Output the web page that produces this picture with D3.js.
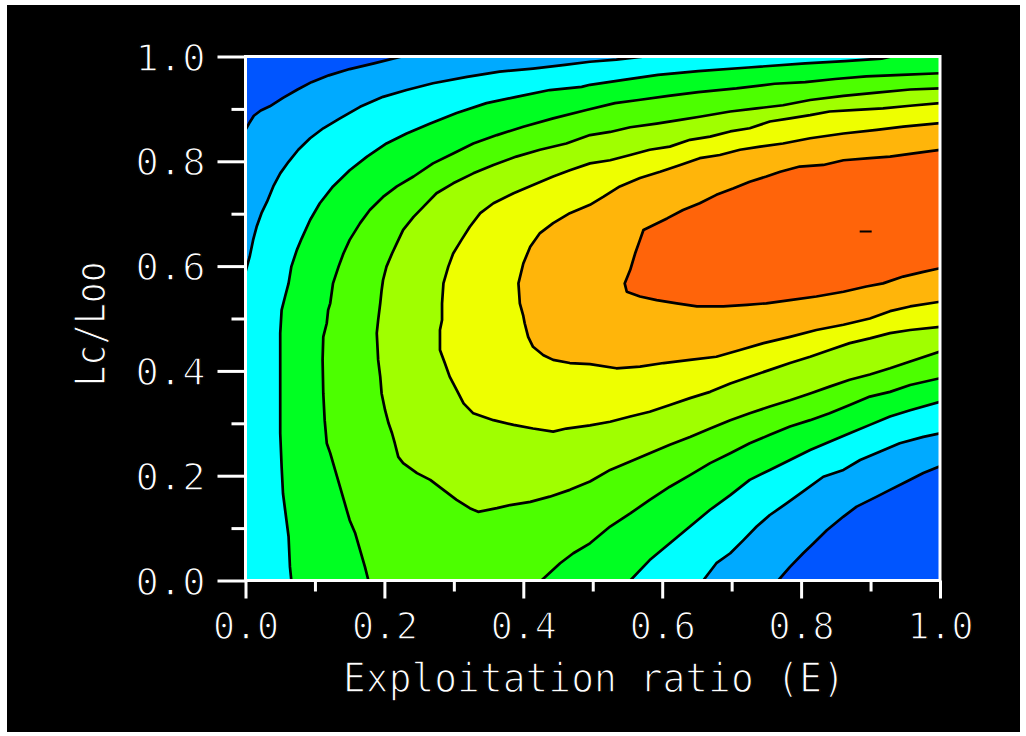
<!DOCTYPE html>
<html><head><meta charset="utf-8">
<script src="https://cdn.jsdelivr.net/npm/d3@7"></script>
<style>
html,body{margin:0;padding:0;background:#fff;}
svg{display:block;}
</style></head>
<body>
<svg id="chart" width="1026" height="736"></svg>
<script>
// ---- data: isopleth lines, points are [E, Lc/Loo] ----
const xTickValues = [0, 0.2, 0.4, 0.6, 0.8, 1.0];
const xMinorTicks = [0.1, 0.3, 0.5, 0.7, 0.9];
const yTickValues = [0, 0.2, 0.4, 0.6, 0.8, 1.0];
const yMinorTicks = [0.1, 0.3, 0.5, 0.7, 0.9];
const xTitle = "Exploitation ratio (E)";
const yTitle = "Lc/Loo";

const level1Upper = [[0,.860],[.005,.872],[.012,.887],[.022,.897],[.035,.905],[.054,.921],[.075,.937],[.095,.951],[.12,.964],[.15,.976],[.185,.987],[.225,1]];
const level1Lower = [[.767,0],[.784,.026],[.803,.052],[.818,.071],[.837,.096],[.861,.122],[.880,.141],[.909,.160],[.928,.173],[.952,.189],[.976,.205],[1,.218]];
const level2Upper = [[0,.589],[.006,.618],[.011,.650],[.016,.675],[.023,.701],[.031,.723],[.040,.752],[.050,.777],[.062,.799],[.076,.822],[.093,.844],[.112,.863],[.136,.882],[.165,.904],[.198,.923],[.232,.936],[.270,.949],[.319,.961],[.366,.971],[.414,.977],[.460,.984],[.496,.990],[.534,.994],[.575,1]];
const level2Lower = [[.659,0],[.678,.033],[.698,.052],[.717,.077],[.736,.103],[.755,.125],[.779,.147],[.803,.170],[.832,.198],[.861,.211],[.885,.230],[.914,.246],[.942,.262],[.976,.274],[1,.281]];
const level3Upper = [[.066,0],[.064,.026],[.062,.084],[.057,.135],[.054,.166],[.052,.217],[.050,.281],[.050,.357],[.050,.472],[.052,.516],[.057,.542],[.062,.567],[.066,.599],[.074,.631],[.081,.653],[.093,.688],[.107,.720],[.126,.752],[.150,.783],[.175,.809],[.203,.834],[.232,.853],[.266,.872],[.304,.892],[.347,.911],[.390,.923],[.438,.936],[.484,.942],[.496,.946],[.542,.955],[.594,.965],[.652,.972],[.724,.979],[.806,.987],[.863,.991],[.916,.996],[.93,1]];
const level3Lower = [[.554,0],[.582,.039],[.611,.071],[.640,.103],[.669,.135],[.698,.163],[.726,.192],[.755,.211],[.784,.230],[.813,.249],[.841,.265],[.870,.281],[.899,.297],[.928,.313],[.957,.325],[1,.341]];
const level4Upper = [[.177,0],[.172,.026],[.165,.058],[.158,.090],[.150,.115],[.143,.147],[.136,.179],[.129,.211],[.122,.243],[.117,.262],[.114,.306],[.112,.357],[.111,.421],[.112,.465],[.117,.491],[.119,.516],[.122,.529],[.126,.567],[.134,.599],[.141,.624],[.150,.650],[.165,.682],[.179,.707],[.198,.732],[.218,.752],[.242,.771],[.270,.796],[.299,.815],[.328,.834],[.362,.850],[.400,.866],[.443,.882],[.491,.898],[.532,.911],[.566,.917],[.609,.925],[.652,.932],[.707,.939],[.762,.948],[.806,.951],[.849,.957],[.894,.962],[.945,.965],[1,.968]];
const level4Lower = [[.426,0],[.453,.033],[.472,.052],[.496,.071],[.525,.103],[.554,.128],[.582,.154],[.611,.179],[.640,.201],[.669,.224],[.698,.243],[.726,.262],[.755,.278],[.784,.294],[.813,.306],[.841,.319],[.870,.335],[.899,.351],[.928,.360],[.957,.373],[1,.386]];
const level5 = [[1,.939],[.957,.937],[.909,.931],[.861,.925],[.813,.917],[.774,.907],[.736,.901],[.698,.895],[.654,.885],[.626,.879],[.592,.872],[.554,.865],[.525,.856],[.496,.850],[.462,.834],[.424,.822],[.390,.809],[.357,.793],[.328,.777],[.299,.758],[.275,.739],[.256,.713],[.242,.694],[.227,.669],[.218,.644],[.211,.624],[.203,.599],[.198,.573],[.196,.554],[.194,.529],[.191,.497],[.189,.472],[.191,.421],[.194,.389],[.196,.357],[.201,.325],[.206,.300],[.211,.281],[.215,.262],[.220,.236],[.227,.224],[.247,.205],[.266,.192],[.285,.173],[.304,.154],[.323,.138],[.335,.131],[.362,.138],[.381,.144],[.410,.150],[.438,.160],[.467,.173],[.496,.189],[.525,.211],[.554,.227],[.582,.243],[.611,.259],[.640,.274],[.669,.290],[.698,.306],[.726,.319],[.755,.332],[.784,.344],[.813,.357],[.841,.370],[.870,.383],[.899,.393],[.928,.405],[.957,.418],[1,.437]];
const level6 = [[1,.911],[.957,.906],[.918,.901],[.880,.898],[.841,.895],[.813,.888],[.784,.882],[.755,.876],[.726,.863],[.698,.857],[.669,.847],[.640,.841],[.611,.828],[.582,.822],[.554,.812],[.525,.802],[.496,.796],[.467,.783],[.443,.771],[.414,.755],[.386,.739],[.357,.720],[.338,.701],[.323,.675],[.311,.650],[.299,.624],[.292,.599],[.285,.567],[.283,.529],[.283,.497],[.280,.478],[.280,.440],[.287,.415],[.294,.389],[.304,.364],[.314,.338],[.328,.319],[.357,.306],[.386,.297],[.414,.290],[.443,.284],[.462,.290],[.496,.296],[.525,.303],[.554,.313],[.582,.322],[.611,.335],[.640,.348],[.669,.360],[.698,.376],[.726,.389],[.755,.402],[.784,.415],[.813,.427],[.841,.440],[.870,.453],[.899,.462],[.928,.472],[.957,.478],[1,.484]];
const level7 = [[1,.873],[.947,.866],[.909,.860],[.861,.853],[.813,.844],[.774,.834],[.741,.828],[.712,.822],[.683,.812],[.654,.806],[.626,.793],[.597,.780],[.568,.768],[.539,.752],[.515,.732],[.496,.717],[.467,.701],[.443,.682],[.424,.663],[.410,.637],[.400,.605],[.393,.567],[.395,.529],[.400,.505],[.402,.491],[.407,.465],[.414,.446],[.429,.430],[.443,.421],[.467,.415],[.496,.413],[.534,.405],[.568,.408],[.602,.415],[.640,.421],[.678,.427],[.712,.440],[.746,.453],[.784,.465],[.822,.478],[.861,.488],[.899,.500],[.928,.514],[.957,.523],[1,.532]];
const level8 = [[1,.822],[.962,.815],[.928,.809],[.899,.806],[.861,.802],[.832,.793],[.798,.790],[.770,.780],[.750,.771],[.726,.761],[.702,.748],[.678,.736],[.654,.720],[.630,.707],[.607,.691],[.587,.678],[.573,.669],[.568,.650],[.561,.624],[.554,.593],[.546,.567],[.549,.551],[.568,.542],[.592,.535],[.621,.529],[.650,.523],[.688,.523],[.722,.526],[.750,.529],[.784,.535],[.822,.542],[.861,.551],[.894,.561],[.918,.567],[.947,.580],[.976,.589],[1,.596]];
const maximumPoint = [[0.893, 0.666]];

// ---- styles ----
const bandColors = ["#0055ff","#00aaff","#00ffff","#00ff22","#4cff00","#a0ff00","#eeff00","#ffb50a","#ff640a"];
const plot = {left: 245.5, right: 940, top: 56.5, bottom: 580.5};
const fontFam = "'DejaVu Sans Mono', monospace";

const svg = d3.select("#chart");
svg.append("rect").attr("x",7).attr("y",5).attr("width",1013).attr("height",727).attr("fill","#000");

const x = d3.scaleLinear().domain([0,1]).range([plot.left, plot.right]);
const y = d3.scaleLinear().domain([0,1]).range([plot.bottom, plot.top]);

svg.append("clipPath").attr("id","clip").append("rect")
  .attr("x",plot.left).attr("y",plot.top).attr("width",plot.right-plot.left).attr("height",plot.bottom-plot.top);

const g = svg.append("g").attr("clip-path","url(#clip)");
const rev = a => a.slice().reverse();
const area = d3.line().x(d=>x(d[0])).y(d=>y(d[1])).curve(d3.curveLinearClosed);
const line = d3.line().x(d=>x(d[0])).y(d=>y(d[1]));

// super-level regions, each closed along the frame
const regions = [
  [...level1Upper, [1,1], ...rev(level1Lower), [0,0]],
  [...level2Upper, [1,1], ...rev(level2Lower), [0,0]],
  [...level3Upper, [1,1], ...rev(level3Lower)],
  [...level4Upper, ...rev(level4Lower)],
  level5, level6, level7, level8
];
g.append("rect").attr("x",x(0)).attr("y",y(1)).attr("width",x(1)-x(0)).attr("height",y(0)-y(1)).attr("fill",bandColors[0]);
g.selectAll("path.band").data(regions).join("path").attr("class","band")
  .attr("d", area).attr("fill",(d,i)=>bandColors[i+1]);

const lines = [level1Upper, level1Lower, level2Upper, level2Lower, level3Upper, level3Lower, level4Upper, level4Lower, level5, level6, level7, level8];
g.selectAll("path.iso").data(lines).join("path").attr("class","iso")
  .attr("d", line).attr("fill","none").attr("stroke","#000").attr("stroke-width",2.7).attr("stroke-linejoin","round");

g.selectAll("line.max").data(maximumPoint).join("line").attr("class","max")
  .attr("x1",d=>x(d[0])-6).attr("x2",d=>x(d[0])+6).attr("y1",d=>y(d[1])).attr("y2",d=>y(d[1]))
  .attr("stroke","#000").attr("stroke-width",2.2);

// frame
svg.append("rect").attr("x",plot.left).attr("y",plot.top).attr("width",plot.right-plot.left).attr("height",plot.bottom-plot.top)
  .attr("fill","none").attr("stroke","#fff").attr("stroke-width",3);

// axes
function styleAxis(sel){
  sel.select(".domain").remove();
  sel.selectAll("line").attr("stroke","#fff").attr("stroke-width",3);
  sel.selectAll("text").attr("fill","#fff").attr("stroke","#000").attr("stroke-width",1.3).style("font-family",fontFam);
}
const yAxis = svg.append("g").attr("transform",`translate(${plot.left},0)`)
  .call(d3.axisLeft(y).tickValues(yTickValues).tickSize(28).tickPadding(12).tickFormat(d3.format(".1f")));
styleAxis(yAxis);
yAxis.selectAll("text").style("font-size","38px").attr("textLength",70).attr("lengthAdjust","spacingAndGlyphs").attr("dy","0.36em");
const yMinor = svg.append("g").attr("transform",`translate(${plot.left},0)`)
  .call(d3.axisLeft(y).tickValues(yMinorTicks).tickSize(14).tickFormat(""));
styleAxis(yMinor);

const xAxis = svg.append("g").attr("transform",`translate(0,${plot.bottom})`)
  .call(d3.axisBottom(x).tickValues(xTickValues).tickSize(18).tickPadding(14).tickFormat(d3.format(".1f")));
styleAxis(xAxis);
xAxis.selectAll("text").style("font-size","38px").attr("textLength",66).attr("lengthAdjust","spacingAndGlyphs");
const xMinor = svg.append("g").attr("transform",`translate(0,${plot.bottom})`)
  .call(d3.axisBottom(x).tickValues(xMinorTicks).tickSize(11).tickFormat(""));
styleAxis(xMinor);

svg.append("text").attr("x",594).attr("y",692).attr("text-anchor","middle")
  .attr("fill","#fff").attr("stroke","#000").attr("stroke-width",1.3)
  .style("font-family",fontFam).style("font-size","40px")
  .attr("textLength",502).attr("lengthAdjust","spacingAndGlyphs").text(xTitle);
svg.append("text").attr("transform","translate(105,324) rotate(-90)").attr("text-anchor","middle")
  .attr("fill","#fff").attr("stroke","#000").attr("stroke-width",1.3)
  .style("font-family",fontFam).style("font-size","42px")
  .attr("textLength",125).attr("lengthAdjust","spacingAndGlyphs").text(yTitle);
</script>
</body></html>
